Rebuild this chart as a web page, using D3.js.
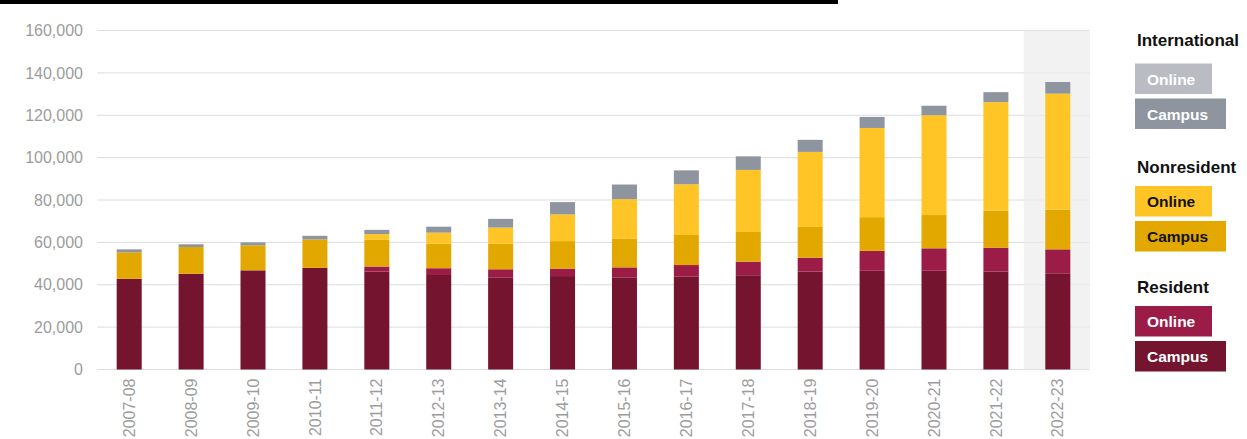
<!DOCTYPE html>
<html>
<head>
<meta charset="utf-8">
<script src="https://cdn.jsdelivr.net/npm/d3@7"></script>
<style>
    body { margin: 0; background: #fff; }
    svg { display: block; font-family: "Liberation Sans", Arial, sans-serif; }
</style>
</head>
<body>
<div id="chart"></div>
<script>
// enrollment by year
const years = ["2007-08", "2008-09", "2009-10", "2010-11", "2011-12", "2012-13", "2013-14", "2014-15",
    "2015-16", "2016-17", "2017-18", "2018-19", "2019-20", "2020-21", "2021-22", "2022-23"]
const residentCampus = [42800, 45200, 46800, 48000, 46200, 44600, 43500, 44100, 43500, 43800, 44500, 46200, 46600, 46600, 46200, 45400]
const residentOnline = [0, 0, 0, 0, 2400, 3200, 3800, 3500, 4700, 5500, 6400, 6600, 9400, 10600, 11300, 11300]
const nonresidentCampus = [12500, 12600, 11800, 13400, 12600, 11600, 12100, 13000, 13500, 14200, 14000, 14500, 15900, 15700, 17500, 18700]
const nonresidentOnline = [0, 0, 0, 0, 2700, 5200, 7600, 12600, 18700, 23900, 29300, 35400, 42100, 47100, 51200, 54800]
const internationalCampus = [1400, 1300, 1400, 1700, 2000, 2800, 4100, 5800, 6900, 6600, 6400, 5700, 5200, 4500, 4700, 5500]
const internationalOnline = [0, 0, 0, 0, 0, 0, 0, 0, 0, 0, 0, 0, 0, 0, 0, 0]
const yTicks = [0, 20000, 40000, 60000, 80000, 100000, 120000, 140000, 160000]

const series = [
    { key: "resCampus", values: residentCampus, color: "#74142f" },
    { key: "resOnline", values: residentOnline, color: "#9b1c46" },
    { key: "nonCampus", values: nonresidentCampus, color: "#e2a800" },
    { key: "nonOnline", values: nonresidentOnline, color: "#ffc425" },
    { key: "intCampus", values: internationalCampus, color: "#8e959f" },
    { key: "intOnline", values: internationalOnline, color: "#b9bdc3" }
]

const legendGroups = [
    { title: "International", items: [["Online", "intOnline"], ["Campus", "intCampus"]], textColor: "#fff" },
    { title: "Nonresident", items: [["Online", "nonOnline"], ["Campus", "nonCampus"]], textColor: "#111" },
    { title: "Resident", items: [["Online", "resOnline"], ["Campus", "resCampus"]], textColor: "#fff" }
]

// build the table d3.stack wants
const table = years.map((yr, i) => {
    const row = { year: yr }
    series.forEach(s => row[s.key] = s.values[i])
    return row
})
const colorOf = {}
series.forEach(s => colorOf[s.key] = s.color)

const width = 1247, height = 439
const plot = { left: 97, right: 1090, top: 30.5, bottom: 369.5 }

const svg = d3.select("#chart").append("svg")
    .attr("width", width)
    .attr("height", height)

// black rule at the very top
svg.append("rect")
    .attr("x", 0).attr("y", 0)
    .attr("width", 838).attr("height", 4)
    .attr("fill", "#000")

const x = d3.scaleBand()
    .domain(years)
    .range([plot.left, plot.right])
    .paddingInner(0.596)
    .paddingOuter(0.318)

const y = d3.scaleLinear()
    .domain([0, 160000])
    .range([plot.bottom, plot.top])

// gridlines
svg.append("g")
    .selectAll("line")
    .data(yTicks)
    .join("line")
    .attr("x1", plot.left)
    .attr("x2", plot.right)
    .attr("y1", d => y(d))
    .attr("y2", d => y(d))
    .attr("stroke", "#dcdcdc")
    .attr("stroke-width", 1)

// shaded latest year
const last = years[years.length - 1]
const shadeX = x(last) + x.bandwidth() / 2 - x.step() * 0.55
svg.append("rect")
    .attr("x", shadeX)
    .attr("y", y(160000))
    .attr("width", plot.right - shadeX)
    .attr("height", y(0) - y(160000))
    .attr("fill", "#ececec")
    .attr("opacity", 0.7)

// stacked bars
const stacked = d3.stack().keys(series.map(s => s.key))(table)

svg.append("g")
    .selectAll("g")
    .data(stacked)
    .join("g")
    .attr("fill", d => colorOf[d.key])
    .selectAll("rect")
    .data(d => d)
    .join("rect")
    .attr("x", d => x(d.data.year))
    .attr("width", x.bandwidth())
    .attr("y", d => y(d[1]))
    .attr("height", d => y(d[0]) - y(d[1]))

// y axis labels
const yAxis = svg.append("g")
    .attr("transform", `translate(${plot.left},0)`)
    .call(d3.axisLeft(y).tickValues(yTicks).tickFormat(d3.format(",")).tickSize(0).tickPadding(14))
yAxis.select(".domain").remove()
yAxis.selectAll("text")
    .style("font-family", "'Liberation Sans', Arial, sans-serif")
    .style("font-size", "16px")
    .attr("fill", "#9c9c9c")

// x axis labels, rotated
const xAxis = svg.append("g")
    .attr("transform", `translate(0,${plot.bottom})`)
    .call(d3.axisBottom(x).tickSize(0))
xAxis.select(".domain").remove()
xAxis.selectAll("text")
    .style("font-family", "'Liberation Sans', Arial, sans-serif")
    .style("font-size", "16px")
    .attr("fill", "#9c9c9c")
    .attr("text-anchor", "end")
    .attr("transform", "rotate(-90)")
    .attr("x", -9)
    .attr("y", 0)
    .attr("dy", "0.35em")

// legend
const legend = svg.append("g").attr("transform", "translate(1135,0)")
const groupTop = [46, 173, 293]
legendGroups.forEach((grp, gi) => {
    const g = legend.append("g").attr("transform", `translate(0,${groupTop[gi]})`)
    g.append("text")
        .attr("x", 2)
        .attr("y", 0)
        .style("font-size", "17px")
        .style("font-weight", "bold")
        .attr("fill", "#111")
        .text(grp.title)
    const boxTop = gi == 0 ? 17.5 : 13
    grp.items.forEach(([label, key], ii) => {
        const by = boxTop + ii * 35
        g.append("rect")
            .attr("x", 0)
            .attr("y", by)
            .attr("width", ii == 0 ? 77 : 91)
            .attr("height", 30.5)
            .attr("fill", colorOf[key])
        g.append("text")
            .attr("x", 12)
            .attr("y", by + 21)
            .style("font-size", "15.5px")
            .style("font-weight", "bold")
            .attr("fill", grp.textColor)
            .text(label)
    })
})
</script>
</body>
</html>
